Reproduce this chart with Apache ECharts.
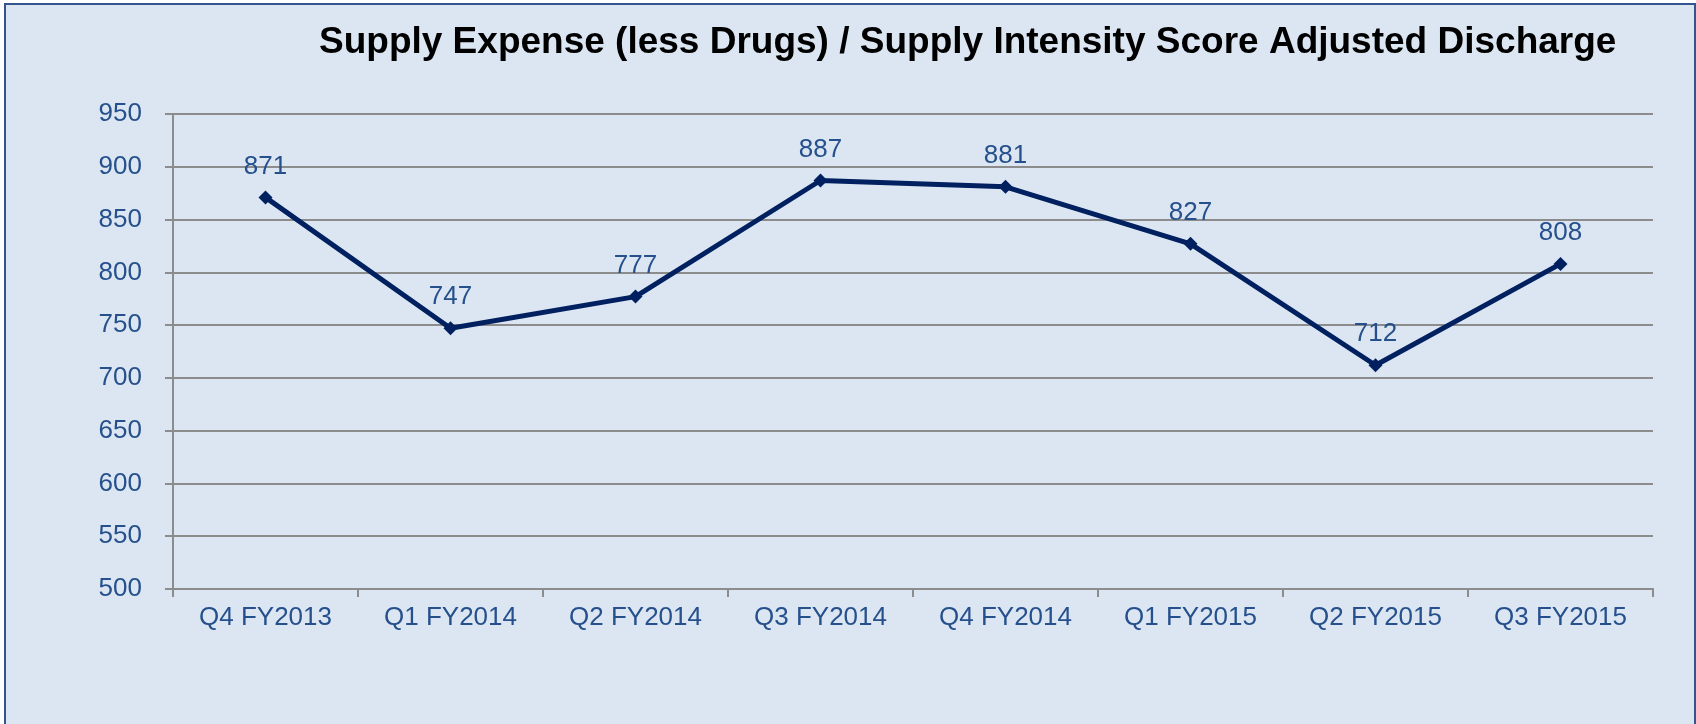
<!DOCTYPE html>
<html>
<head>
<meta charset="utf-8">
<title>Supply Expense</title>
<script src="https://cdn.jsdelivr.net/npm/echarts@6/dist/echarts.min.js"></script>
<style>
  html, body { margin: 0; padding: 0; background: #ffffff; }
  #chart { width: 1696px; height: 724px; }
</style>
</head>
<body>
<div id="chart"></div>
<script>
// quarters on the x axis
var quarters = ['Q4 FY2013', 'Q1 FY2014', 'Q2 FY2014', 'Q3 FY2014', 'Q4 FY2014', 'Q1 FY2015', 'Q2 FY2015', 'Q3 FY2015'];
// supply expense per adjusted discharge
var expense = [871, 747, 777, 887, 881, 827, 712, 808];
var yMin = 500;
var yMax = 950;
var yStep = 50;

var chart = echarts.init(document.getElementById('chart'));
var textBlue = '#25508c';
var gridGrey = '#8c8c8c';

var option = {
  backgroundColor: '#ffffff',
  animation: false,
  graphic: [{
    type: 'rect',
    z: -10,
    silent: true,
    shape: { x: 5, y: 4, width: 1690, height: 740 },
    style: { fill: '#dce6f2', stroke: '#34548f', lineWidth: 2 }
  }],
  title: {
    text: 'Supply Expense (less Drugs) / Supply Intensity Score Adjusted Discharge',
    left: 314,
    top: 19,
    textStyle: {
      color: '#000000',
      fontFamily: 'Liberation Sans',
      fontWeight: 'bold',
      fontSize: 37
    }
  },
  grid: {
    left: 173,
    right: 43,
    top: 114,
    bottom: 135
  },
  xAxis: {
    type: 'category',
    data: quarters,
    boundaryGap: true,
    axisLine: { lineStyle: { color: gridGrey, width: 2 } },
    axisTick: { show: true, length: 8, lineStyle: { color: gridGrey, width: 2 } },
    axisLabel: {
      color: textBlue,
      fontFamily: 'Liberation Sans',
      fontSize: 26,
      margin: 16
    }
  },
  yAxis: {
    type: 'value',
    min: yMin,
    max: yMax,
    interval: yStep,
    axisLine: { show: true, lineStyle: { color: gridGrey, width: 2 } },
    axisTick: { show: true, length: 8, lineStyle: { color: gridGrey, width: 2 } },
    splitLine: { lineStyle: { color: gridGrey, width: 2 } },
    axisLabel: {
      color: textBlue,
      fontFamily: 'Liberation Sans',
      fontSize: 26,
      margin: 31
    }
  },
  series: [{
    type: 'line',
    data: expense,
    symbol: 'diamond',
    symbolSize: 14,
    lineStyle: { color: '#002060', width: 5 },
    itemStyle: { color: '#002060' },
    label: {
      show: true,
      position: 'top',
      distance: 11,
      color: textBlue,
      fontFamily: 'Liberation Sans',
      fontSize: 26
    }
  }]
};

chart.setOption(option);
</script>
</body>
</html>
